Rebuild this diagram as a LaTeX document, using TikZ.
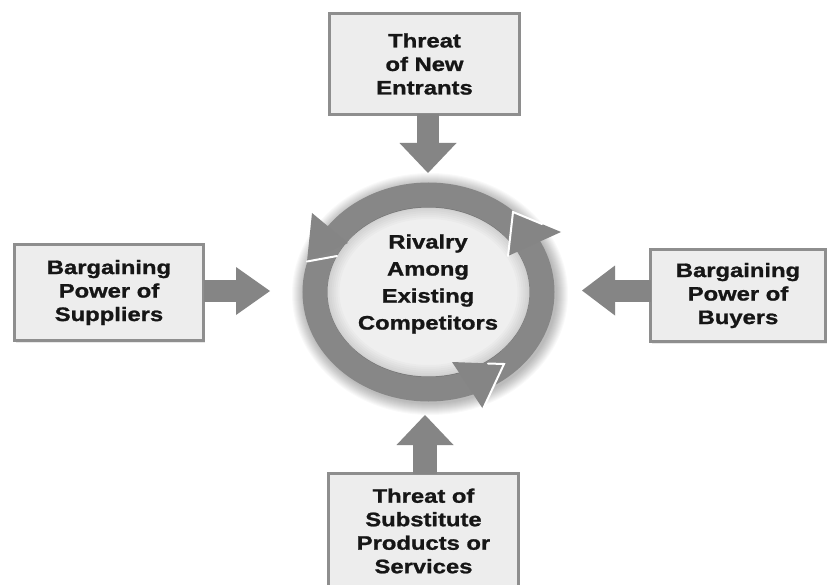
\documentclass[tikz,border=0pt]{standalone}
\usepackage{fontspec}
\newfontfamily\lblfont{Liberation Sans}[FakeStretch=1.22,FakeBold=1.2]
\usetikzlibrary{calc,shapes.geometric,shadows}
\definecolor{boxfill}{HTML}{EDEDED}
\definecolor{boxline}{HTML}{8E8E8E}
\definecolor{arrowc}{HTML}{858585}
\definecolor{ringc}{HTML}{878787}
\definecolor{innerc}{HTML}{EFEFEF}
\definecolor{txtc}{HTML}{161616}
\begin{document}
\begin{tikzpicture}[x=1pt,y=-1pt,
  forcebox/.style={rectangle, draw=boxline, line width=2.5pt, fill=boxfill,
    inner sep=0pt, outer sep=0pt,
    drop shadow={shadow xshift=1.5pt, shadow yshift=-2pt, opacity=0.18}},
  lbl/.style={font={\lblfont\bfseries\fontsize{19.5pt}{23.5pt}\selectfont},
    text=txtc, align=center},
  ringlbl/.style={font={\lblfont\bfseries\fontsize{19.5pt}{27pt}\selectfont},
    text=txtc, align=center},
  headc/.style={fill=arrowc},
  whiteedge/.style={draw=white, line width=2pt, line cap=round, line join=miter}
]
\fill[white] (0,0) rectangle (829,585);
\useasboundingbox (0,0) rectangle (829,585);

% ---- force boxes
\node[forcebox, lbl, minimum width=190pt, minimum height=101pt] (top) at (424.5,64)
  {Threat\\of New\\Entrants};
\node[forcebox, lbl, minimum width=189pt, minimum height=96pt] (left) at (109,292.5)
  {Bargaining\\Power of\\Suppliers};
\node[forcebox, lbl, minimum width=175pt, minimum height=92pt] (right) at (738,295.5)
  {Bargaining\\Power of\\Buyers};
\node[forcebox, minimum width=190pt, minimum height=116pt] (bottom) at (423.5,531.5) {};
\node[lbl] (bottomtext) at (423.5,531) {Threat of\\Substitute\\Products or\\Services};

% ---- glow around the ring
\foreach \k in {1,...,12}{
  \fill[black, opacity=0.022] (430,294) ellipse [x radius={(126+\k)*1pt}, y radius={(109+\k)*1pt}];
}

% ---- rivalry ring
\node[ellipse, draw=ringc, fill=innerc, line width=25pt, minimum width=227pt,
      minimum height=194pt, inner sep=0pt] (ring) at (428.5,292) {};
\foreach \k in {1,...,6}{
  \fill[black, opacity=0.018, even odd rule]
    (428.5,292) ellipse [x radius=101pt, y radius=85pt]
    (428.5,292) ellipse [x radius={(101-2*\k)*1pt}, y radius={(85-2*\k)*1pt}];
}
\node[ringlbl] (rivalry) at (428,284) {Rivalry\\Among\\Existing\\Competitors};

% ---- arrowheads on the ring
\fill[headc] (312,213) -- (348,243) -- (307,261.5) -- cycle;
\draw[whiteedge] (307,261.5) -- (337,256);
\fill[headc] (513,212) -- (561,232) -- (508,256) -- cycle;
\draw[whiteedge] (508,256) -- (513,212) -- (542,224);
\fill[headc] (452,362) -- (504,364) -- (483,409) -- cycle;
\draw[whiteedge] (488,363.5) -- (504,364) -- (483,409);

% ---- force arrows
\coordinate (tipT) at (428,173);
\coordinate (tipB) at (425,415);
\coordinate (tipL) at (270,291);
\coordinate (tipR) at (582,290.5);

\draw[arrowc, line width=21.5pt] (top.south -| tipT) -- ($(tipT)+(0,-29)$);
\fill[arrowc] (tipT) -- ($(tipT)+(-28.5,-30)$) -- ($(tipT)+(28.5,-30)$) -- cycle;

\draw[arrowc, line width=24pt] (bottom.north -| tipB) -- ($(tipB)+(0,29)$);
\fill[arrowc] (tipB) -- ($(tipB)+(-28.5,30)$) -- ($(tipB)+(28.5,30)$) -- cycle;

\draw[arrowc, line width=22pt] (left.east |- tipL) -- ($(tipL)+(-33,0)$);
\fill[arrowc] (tipL) -- ($(tipL)+(-34,-24)$) -- ($(tipL)+(-34,24)$) -- cycle;

\draw[arrowc, line width=22pt] (right.west |- tipR) -- ($(tipR)+(32,0)$);
\fill[arrowc] (tipR) -- ($(tipR)+(33,-25)$) -- ($(tipR)+(33,25)$) -- cycle;
\end{tikzpicture}
\end{document}
